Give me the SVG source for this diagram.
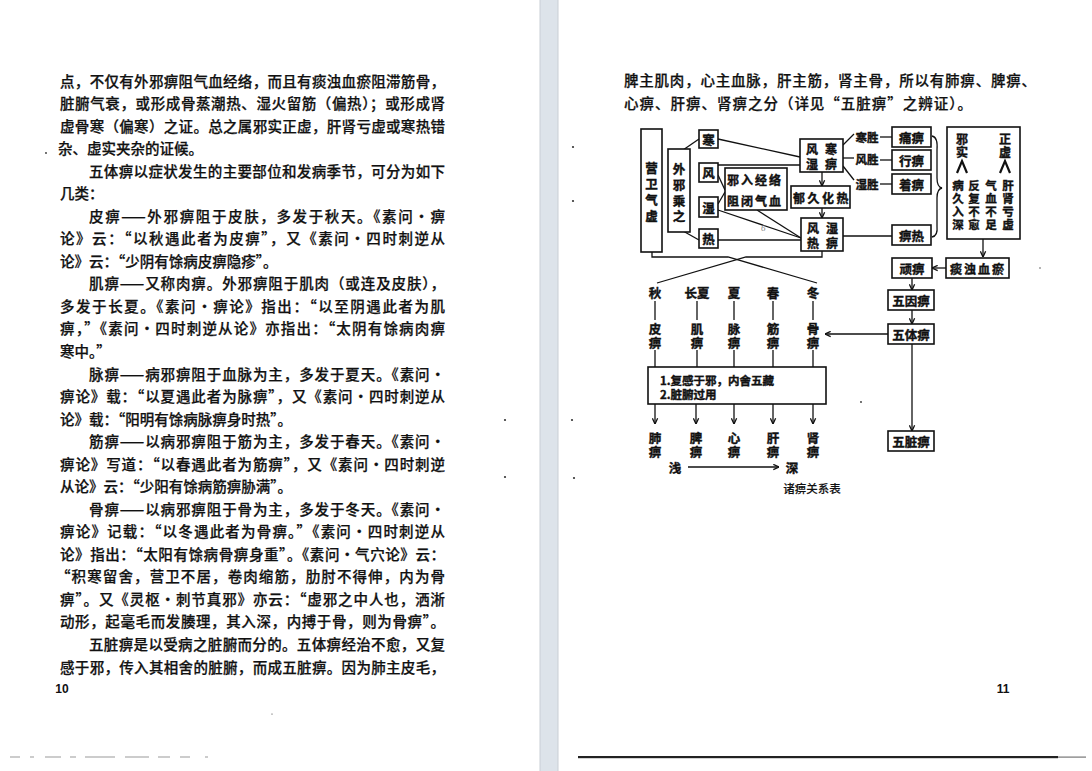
<svg xmlns="http://www.w3.org/2000/svg" width="1092" height="771" viewBox="0 0 1092 771">
<defs>
<style>
.t{font-family:"Noto Sans CJK SC","Noto Sans CJK TC",sans-serif;font-size:14.5px;fill:#111;stroke:#111;stroke-width:0.25;font-weight:500;dominant-baseline:central}
.d{font-family:"Noto Sans CJK SC","Noto Sans CJK TC",sans-serif;font-size:12.5px;fill:#111;stroke:#111;stroke-width:0.4;font-weight:700;dominant-baseline:central;text-anchor:middle}
.s{font-size:11.5px}
.m{font-size:12px}
.bx{fill:#fff;stroke:#111;stroke-width:1.6}
.ln{fill:none;stroke:#111;stroke-width:1.3}
.pn{font-family:"Liberation Sans",Arial,sans-serif;font-size:12px;font-weight:bold;fill:#111;text-anchor:middle;dominant-baseline:central}
.dot{fill:#333}
</style>
<marker id="ah" viewBox="0 0 8 8" refX="7.5" refY="4" markerWidth="7" markerHeight="7" orient="auto" markerUnits="userSpaceOnUse">
<path d="M1,1 L7.5,4 L1,7" fill="none" stroke="#111" stroke-width="1.5"/>
</marker>
</defs>
<rect x="0" y="0" width="1092" height="771" fill="#fff"/>
<!-- gutter -->
<rect x="540" y="0" width="18" height="771" fill="#dde3ea"/>
<line x1="540" y1="0" x2="540" y2="771" stroke="#c9ced5" stroke-width="1"/>
<line x1="558" y1="0" x2="558" y2="771" stroke="#c9ced5" stroke-width="1"/>

<!-- left page text -->
<g id="left-page">
<text class="t" x="60" y="80" textLength="385" lengthAdjust="spacing">点，不仅有外邪痹阻气血经络，而且有痰浊血瘀阻滞筋骨，</text>
<text class="t" x="60" y="102.5" textLength="385" lengthAdjust="spacing">脏腑气衰，或形成骨蒸潮热、湿火留筋（偏热）；或形成肾</text>
<text class="t" x="60" y="125.1" textLength="385" lengthAdjust="spacing">虚骨寒（偏寒）之证。总之属邪实正虚，肝肾亏虚或寒热错</text>
<text class="t" x="58" y="147.6">杂、虚实夹杂的证候。</text>
<text class="t" x="89" y="170.2" textLength="356" lengthAdjust="spacing">五体痹以症状发生的主要部位和发病季节，可分为如下</text>
<text class="t" x="60" y="192.7">几类：</text>
<text class="t" x="89" y="215.2" textLength="356" lengthAdjust="spacing">皮痹——外邪痹阻于皮肤，多发于秋天。《素问·痹</text>
<text class="t" x="60" y="237.8" textLength="385" lengthAdjust="spacing">论》云：“以秋遇此者为皮痹”，又《素问·四时刺逆从</text>
<text class="t" x="60" y="260.3">论》云：“少阴有馀病皮痹隐疹”。</text>
<text class="t" x="89" y="282.9" textLength="356" lengthAdjust="spacing">肌痹——又称肉痹。外邪痹阻于肌肉（或连及皮肤），</text>
<text class="t" x="60" y="305.4" textLength="385" lengthAdjust="spacing">多发于长夏。《素问·痹论》指出：“以至阴遇此者为肌</text>
<text class="t" x="60" y="327.9" textLength="385" lengthAdjust="spacing">痹，”《素问·四时刺逆从论》亦指出：“太阴有馀病肉痹</text>
<text class="t" x="60" y="350.5">寒中。”</text>
<text class="t" x="89" y="373" textLength="356" lengthAdjust="spacing">脉痹——病邪痹阻于血脉为主，多发于夏天。《素问·</text>
<text class="t" x="60" y="395.6" textLength="385" lengthAdjust="spacing">痹论》载：“以夏遇此者为脉痹”，又《素问·四时刺逆从</text>
<text class="t" x="60" y="418.1">论》载：“阳明有馀病脉痹身时热”。</text>
<text class="t" x="89" y="440.6" textLength="356" lengthAdjust="spacing">筋痹——以病邪痹阻于筋为主，多发于春天。《素问·</text>
<text class="t" x="60" y="463.2" textLength="385" lengthAdjust="spacing">痹论》写道：“以春遇此者为筋痹”，又《素问·四时刺逆</text>
<text class="t" x="60" y="485.7">从论》云：“少阳有馀病筋痹胁满”。</text>
<text class="t" x="89" y="508.3" textLength="356" lengthAdjust="spacing">骨痹——以病邪痹阻于骨为主，多发于冬天。《素问·</text>
<text class="t" x="60" y="530.8" textLength="385" lengthAdjust="spacing">痹论》记载：“以冬遇此者为骨痹。”《素问·四时刺逆从</text>
<text class="t" x="60" y="553.3" textLength="385" lengthAdjust="spacing">论》指出：“太阳有馀病骨痹身重”。《素问·气穴论》云：</text>
<text class="t" x="56" y="575.9" textLength="389" lengthAdjust="spacing">“积寒留舍，营卫不居，卷肉缩筋，肋肘不得伸，内为骨</text>
<text class="t" x="60" y="598.4" textLength="385" lengthAdjust="spacing">痹”。又《灵枢·刺节真邪》亦云：“虚邪之中人也，洒淅</text>
<text class="t" x="60" y="620.9" textLength="385" lengthAdjust="spacing">动形，起毫毛而发腠理，其入深，内搏于骨，则为骨痹”。</text>
<text class="t" x="89" y="643.5" textLength="356" lengthAdjust="spacing">五脏痹是以受病之脏腑而分的。五体痹经治不愈，又复</text>
<text class="t" x="60" y="666" textLength="385" lengthAdjust="spacing">感于邪，传入其相舍的脏腑，而成五脏痹。因为肺主皮毛，</text>
<text class="pn" x="62" y="689">10</text>
</g>

<!-- right page text -->
<g id="right-page">
<text class="t" x="624" y="79" textLength="412" lengthAdjust="spacing">脾主肌肉，心主血脉，肝主筋，肾主骨，所以有肺痹、脾痹、</text>
<text class="t" x="624" y="102" textLength="348" lengthAdjust="spacing">心痹、肝痹、肾痹之分（详见“五脏痹”之辨证）。</text>
<text class="pn" x="1003" y="689">11</text>
</g>

<!-- connectors -->
<g id="connectors">
<line class="ln" x1="683" y1="150" x2="699" y2="139"/>
<line class="ln" x1="683" y1="231" x2="699" y2="240"/>
<line class="ln" x1="718" y1="139" x2="800" y2="157"/>
<line class="ln" x1="718" y1="165" x2="800" y2="165"/>
<line class="ln" x1="718" y1="175" x2="725" y2="190"/>
<line class="ln" x1="718" y1="204" x2="725" y2="192"/>
<line class="ln" x1="718" y1="210" x2="801" y2="238"/>
<line class="ln" x1="757" y1="210" x2="801" y2="238"/>
<line class="ln" x1="718" y1="240" x2="801" y2="240"/>
<line class="ln" x1="822" y1="172" x2="822" y2="186" marker-end="url(#ah)"/>
<line class="ln" x1="822" y1="208" x2="822" y2="218" marker-end="url(#ah)"/>
<line class="ln" x1="843" y1="145" x2="854" y2="134"/>
<line class="ln" x1="843" y1="158" x2="854" y2="158"/>
<line class="ln" x1="843" y1="166" x2="854" y2="180"/>
<line class="ln" x1="880" y1="137" x2="892" y2="137"/>
<line class="ln" x1="880" y1="160" x2="892" y2="160"/>
<line class="ln" x1="880" y1="184" x2="892" y2="184"/>
<line class="ln" x1="843" y1="236" x2="892" y2="236"/>
<path class="ln" d="M932,136 Q938,137 937,150 L937,178 Q937,187 942,188 Q937,189 937,198 L937,226 Q938,236 932,237"/>
<line class="ln" x1="983" y1="239" x2="983" y2="257" marker-end="url(#ah)"/>
<line class="ln" x1="946" y1="268" x2="932" y2="268" marker-end="url(#ah)"/>
<line class="ln" x1="912" y1="278" x2="912" y2="290" marker-end="url(#ah)"/>
<line class="ln" x1="912" y1="310" x2="912" y2="324" marker-end="url(#ah)"/>
<line class="ln" x1="888" y1="334" x2="825" y2="334" marker-end="url(#ah)"/>
<line class="ln" x1="912" y1="344" x2="912" y2="431" marker-end="url(#ah)"/>
<!-- bracket and cross -->
<polyline class="ln" points="652,252 652,257 728,257 817,283"/>
<polyline class="ln" points="822,251 822,257 746,257 657,283"/>
<!-- season to 体痹 -->
<line class="ln" x1="655" y1="301" x2="655" y2="320"/>
<line class="ln" x1="697" y1="301" x2="697" y2="320"/>
<line class="ln" x1="734" y1="301" x2="734" y2="320"/>
<line class="ln" x1="773" y1="301" x2="773" y2="320"/>
<line class="ln" x1="813" y1="301" x2="813" y2="320"/>
<line class="ln" x1="655" y1="350" x2="655" y2="367"/>
<line class="ln" x1="697" y1="350" x2="697" y2="367"/>
<line class="ln" x1="734" y1="350" x2="734" y2="367"/>
<line class="ln" x1="773" y1="350" x2="773" y2="367"/>
<line class="ln" x1="813" y1="350" x2="813" y2="367"/>
<line class="ln" x1="655" y1="404" x2="655" y2="424" marker-end="url(#ah)"/>
<line class="ln" x1="696" y1="404" x2="696" y2="424" marker-end="url(#ah)"/>
<line class="ln" x1="734" y1="404" x2="734" y2="424" marker-end="url(#ah)"/>
<line class="ln" x1="773" y1="404" x2="773" y2="424" marker-end="url(#ah)"/>
<line class="ln" x1="813" y1="404" x2="813" y2="424" marker-end="url(#ah)"/>
<line class="ln" x1="688" y1="467" x2="779" y2="467" marker-end="url(#ah)"/>
</g>

<!-- nodes -->
<g id="n-yingwei"><rect class="bx" x="641" y="129" width="21" height="123" stroke-width="2.4"/>
<text class="d" x="651.5 651.5 651.5 651.5" y="167 183 199 215">营卫气虚</text></g>
<g id="n-waixie"><rect class="bx" x="668" y="149" width="22" height="83"/>
<text class="d" x="679 679 679 679" y="168 184 200 215">外邪乘之</text></g>
<g id="n-han"><rect class="bx" x="699" y="130" width="19" height="18"/><text class="d" x="708.5" y="139">寒</text></g>
<g id="n-feng"><rect class="bx" x="699" y="163" width="19" height="19"/><text class="d" x="708.5" y="172.5">风</text></g>
<g id="n-shi"><rect class="bx" x="699" y="197" width="19" height="20"/><text class="d" x="708.5" y="207">湿</text></g>
<g id="n-re"><rect class="bx" x="699" y="229" width="19" height="19"/><text class="d" x="708.5" y="238.5">热</text></g>
<g id="n-xieru"><rect class="bx" x="725" y="168" width="62" height="42"/>
<text class="d m" x="733 747 761 775" y="179">邪入经络</text>
<text class="d m" x="733 747 761 775" y="200">阻闭气血</text></g>
<g id="n-fhs"><rect class="bx" x="800" y="139" width="43" height="33"/>
<text class="d m" x="812 831" y="148">风寒</text>
<text class="d m" x="812 831" y="163">湿痹</text></g>
<g id="n-yujiu"><rect class="bx" x="791" y="186" width="59" height="22"/>
<text class="d m" x="799 813.5 828 842.5" y="197">郁久化热</text></g>
<g id="n-fsr"><rect class="bx" x="801" y="218" width="42" height="33"/>
<text class="d m" x="813 832" y="227">风湿</text>
<text class="d m" x="813 832" y="242">热痹</text></g>
<g id="n-hansheng"><text class="d s" x="867" y="137">寒胜</text></g>
<g id="n-fengsheng"><text class="d s" x="867" y="159">风胜</text></g>
<g id="n-shisheng"><text class="d s" x="867" y="184">湿胜</text></g>
<g id="n-tongbi"><rect class="bx" x="892" y="127" width="39" height="20"/><text class="d" x="911.5" y="137">痛痹</text></g>
<g id="n-xingbi"><rect class="bx" x="892" y="150" width="39" height="20"/><text class="d" x="911.5" y="160">行痹</text></g>
<g id="n-zhuobi"><rect class="bx" x="892" y="174" width="39" height="20"/><text class="d" x="911.5" y="184">着痹</text></g>
<g id="n-bire"><rect class="bx" x="892" y="225" width="39" height="20"/><text class="d" x="911.5" y="235">痹热</text></g>
<g id="n-xieshi"><rect class="bx" x="947" y="127" width="73" height="112" stroke-width="2"/>
<text class="d m" x="962 962" y="138 151">邪实</text>
<text class="d m" x="1005 1005" y="138 151">正虚</text>
<polyline points="957,173 962,161 967,173" fill="none" stroke="#111" stroke-width="2.2"/>
<polyline points="1000,173 1005,161 1010,173" fill="none" stroke="#111" stroke-width="2.2"/>
<text class="d s" x="958 958 958 958" y="185 198 211 224">病久入深</text>
<text class="d s" x="974 974 974 974" y="185 198 211 224">反复不愈</text>
<text class="d s" x="991 991 991 991" y="185 198 211 224">气血不足</text>
<text class="d s" x="1008 1008 1008 1008" y="185 198 211 224">肝肾亏虚</text></g>
<g id="n-tanzhuo"><rect class="bx" x="946" y="258" width="63" height="20" stroke-width="2"/>
<text class="d m" x="956 970 984 998" y="268">痰浊血瘀</text></g>
<g id="n-wanbi"><rect class="bx" x="892" y="258" width="40" height="20"/><text class="d" x="912" y="268">顽痹</text></g>
<g id="n-wuyin"><rect class="bx" x="888" y="290" width="46" height="20"/><text class="d" x="911" y="300">五因痹</text></g>
<g id="n-wuti"><rect class="bx" x="888" y="324" width="46" height="20"/><text class="d" x="911" y="334">五体痹</text></g>
<g id="n-wuzang"><rect class="bx" x="888" y="431" width="46" height="20"/><text class="d" x="911" y="441">五脏痹</text></g>
<g id="n-seasons">
<text class="d" x="655" y="292">秋</text>
<text class="d" x="697" y="292">长夏</text>
<text class="d" x="734" y="292">夏</text>
<text class="d" x="773" y="292">春</text>
<text class="d" x="813" y="292">冬</text></g>
<g id="n-tibi">
<text class="d" x="655 655" y="328 342">皮痹</text>
<text class="d" x="697 697" y="328 342">肌痹</text>
<text class="d" x="734 734" y="328 342">脉痹</text>
<text class="d" x="773 773" y="328 342">筋痹</text>
<text class="d" x="813 813" y="328 342">骨痹</text></g>
<g id="n-fugan"><rect class="bx" x="648" y="367" width="178" height="37"/>
<text class="d s" x="660" y="380" style="text-anchor:start">1.复感于邪，内舍五藏</text>
<text class="d s" x="660" y="394" style="text-anchor:start">2.脏腑过用</text></g>
<g id="n-zangbi">
<text class="d" x="655 655" y="437 451">肺痹</text>
<text class="d" x="696 696" y="437 451">脾痹</text>
<text class="d" x="734 734" y="437 451">心痹</text>
<text class="d" x="773 773" y="437 451">肝痹</text>
<text class="d" x="813 813" y="437 451">肾痹</text></g>
<g id="n-depth">
<text class="d" x="675" y="467">浅</text>
<text class="d" x="792" y="467">深</text></g>
<g id="caption"><text class="d s" x="812" y="488" style="font-weight:500;stroke-width:0.15">诸痹关系表</text></g>

<!-- scan specks -->
<g id="specks">
<text x="761" y="231" font-family="Liberation Serif,serif" font-size="9" font-style="italic" fill="#888">6</text>
<circle class="dot" cx="46" cy="153" r="0.9"/>
<circle class="dot" cx="573" cy="147" r="1.1"/>
<circle class="dot" cx="573" cy="201" r="1.1"/>
<circle class="dot" cx="572" cy="420" r="1.1"/>
<circle class="dot" cx="574" cy="478" r="1.1"/>
<circle class="dot" cx="505" cy="420" r="1.1"/>
<circle class="dot" cx="505" cy="477" r="1.1"/>
<circle class="dot" cx="861" cy="402" r="0.9"/>
<circle class="dot" cx="1040" cy="268" r="0.7"/>
<circle class="dot" cx="272" cy="714" r="0.6"/>
<rect x="578" y="756" width="480" height="2.2" fill="#222"/>
<rect x="1058" y="756.5" width="28" height="1.2" fill="#777"/>
<path d="M10,757 h10 M30,757 h4 M45,757 h16 M70,757 h6 M85,757 h30 M125,757 h24 M158,757 h12 M180,757 h10 M205,757 h3" stroke="#999" stroke-width="1"/>
</g>
</svg>
